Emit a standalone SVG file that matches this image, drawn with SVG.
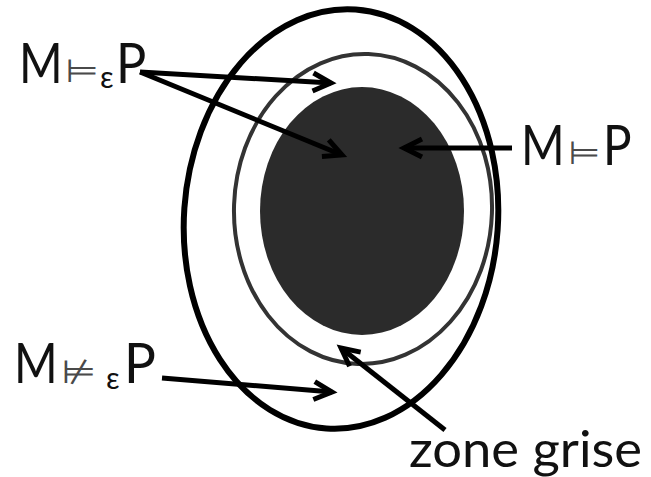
<svg xmlns="http://www.w3.org/2000/svg" width="651" height="477" viewBox="0 0 651 477">
<style>
.lbl{font-family:Lato,"Open Sans","DejaVu Sans",sans-serif;fill:#111;font-size:56px}
.sym{font-family:"DejaVu Sans",sans-serif;fill:#4a4a4a;font-size:32px}
.sub{font-family:Lato,"Open Sans","DejaVu Sans",sans-serif;fill:#111;font-size:30px}
.con{stroke:#000;stroke-width:5;fill:none;marker-end:url(#ah)}
</style>
<defs>
<marker id="ah" markerUnits="userSpaceOnUse" markerWidth="30" markerHeight="30" refX="20" refY="10" orient="auto" viewBox="0 0 30 20">
<path d="M2,1 L20,10 L2,19" fill="none" stroke="#000" stroke-width="5" stroke-linejoin="miter"/>
</marker>
</defs>
<rect width="651" height="477" fill="#fff"/>
<g id="outer"><ellipse cx="341" cy="219" rx="157" ry="210" transform="rotate(4 341 219)" fill="none" stroke="#000" stroke-width="6"/></g>
<g id="middle"><ellipse cx="363" cy="209" rx="129" ry="155" transform="rotate(2 363 209)" fill="none" stroke="#333" stroke-width="4"/></g>
<g id="inner"><ellipse cx="362" cy="211" rx="102" ry="124" fill="#2b2b2b"/></g>
<g id="connectors">
<line class="con" x1="140" y1="72" x2="331" y2="83"/>
<line class="con" x1="140" y1="72" x2="342" y2="155"/>
<line class="con" x1="512" y1="148" x2="404" y2="148"/>
<line class="con" x1="162" y1="378" x2="332" y2="392"/>
<line class="con" x1="445" y1="430" x2="341" y2="348"/>
</g>
<g id="label-meps">
<text class="lbl" transform="translate(19 83) scale(0.84 1)">M</text>
<text class="sym" transform="translate(65 82) scale(1.2 1)">⊨</text>
<text class="sub" x="100" y="88">ε</text>
<text class="lbl" transform="translate(116 83) scale(0.9 1)">P</text>
</g>
<g id="label-mp">
<text class="lbl" transform="translate(521 165) scale(0.84 1)">M</text>
<text class="sym" transform="translate(568 164) scale(1.15 1)">⊨</text>
<text class="lbl" transform="translate(603 165) scale(0.85 1)">P</text>
</g>
<g id="label-mneps">
<text class="lbl" transform="translate(14 383) scale(0.84 1)">M</text>
<text class="sym" transform="translate(61 383) scale(1.25 1)">⊭</text>
<text class="sub" x="106" y="389">ε</text>
<text class="lbl" transform="translate(124 383) scale(0.95 1)">P</text>
</g>
<g id="label-zone">
<text class="lbl" x="409" y="467" style="font-size:50px" textLength="233" lengthAdjust="spacingAndGlyphs">zone grise</text>
</g>
</svg>
